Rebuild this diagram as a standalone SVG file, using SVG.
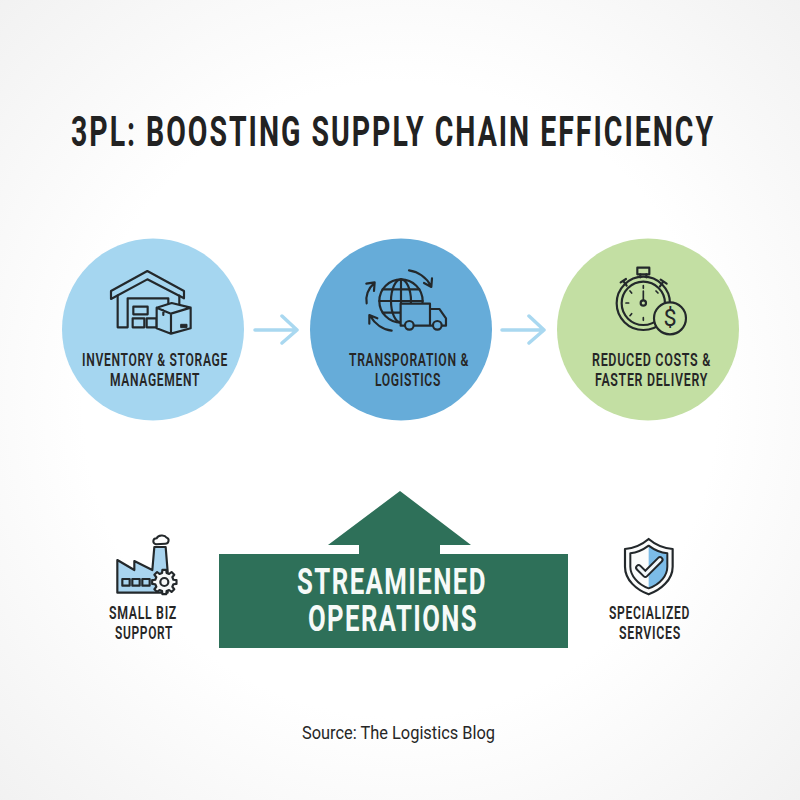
<svg xmlns="http://www.w3.org/2000/svg" width="800" height="800" viewBox="0 0 800 800">
<style>
text{font-family:Roboto,"Liberation Sans",sans-serif;fill:#262626;text-anchor:start}
.lab{font-size:18px;font-weight:600;letter-spacing:1px}
.ic{fill:none;stroke:#23282b;stroke-width:6.5;stroke-linejoin:round;stroke-linecap:round}
.conn{fill:none;stroke:#a9d8f0;stroke-width:3.5;stroke-linecap:round;stroke-linejoin:round}
.big{font-size:36px;font-weight:700;fill:#f6faf8;letter-spacing:2px}
</style>
<defs>
<radialGradient id="bg" cx="50%" cy="50%" r="72%">
<stop offset="0.55" stop-color="#ffffff"/><stop offset="1" stop-color="#f1f1f1"/>
</radialGradient>
</defs>
<rect width="800" height="800" fill="url(#bg)"/>
<text id="title" x="71" y="146" font-size="43" font-weight="700" letter-spacing="3" textLength="644" lengthAdjust="spacingAndGlyphs" style="fill:#222">3PL: BOOSTING SUPPLY CHAIN EFFICIENCY</text>

<g id="connectors">
<path class="conn" d="M255 330H297M282 316L297 330L282 343"/>
<path class="conn" d="M502 330H544M529 316L544 330L529 343"/>
</g>

<g id="node-inventory">
<circle cx="153" cy="329.5" r="91" fill="#a5d6f0"/>
<g transform="translate(60 235) scale(.3333)" class="ic">
<path d="M153 192L262 133L372 190V168L262 108L153 168Z"/>
<path d="M173 182V277H203V190H325V208M358 182V207"/>
<rect x="220" y="215" width="43" height="23"/>
<rect x="218" y="250" width="35" height="27"/>
<rect x="260" y="250" width="30" height="27"/>
<path d="M290 218L335 204L392 218V280L333 296L290 280ZM290 218L333 236L392 218M333 236V296M310 226V240" fill="#a5d6f0"/>
<rect x="363" y="268" width="18" height="10" fill="#23282b" stroke-width="3"/>
</g>
<text class="lab" x="82" y="366" textLength="146" lengthAdjust="spacingAndGlyphs">INVENTORY &amp; STORAGE</text>
<text class="lab" x="110" y="386" textLength="90" lengthAdjust="spacingAndGlyphs">MANAGEMENT</text>
</g>

<g id="node-transport">
<circle cx="401" cy="329.5" r="91" fill="#66acd9"/>
<g transform="translate(300 235) scale(.3333)" class="ic">
<circle cx="303" cy="198" r="65"/>
<ellipse cx="303" cy="198" rx="30" ry="65"/>
<path d="M303 133V263M238 198H368M248 163H358M248 233H358"/>
<path d="M302 206H390V272H302Z" fill="#66acd9" stroke="none"/>
<path d="M302 272V206H390V272ZM390 222H418L438 250V272H390Z" fill="#66acd9"/>
<circle cx="328" cy="271" r="13" fill="#66acd9"/>
<circle cx="412" cy="271" r="13" fill="#66acd9"/>
<path d="M327 106C355 110 380 128 393 153M396 130L394 156L372 144"/>
<path d="M200 205C196 185 204 160 222 145M199 146L224 142L222 168"/>
<path d="M275 287C250 285 225 268 210 242M208 266L208 240L232 250"/>
</g>
<text class="lab" x="349" y="366" textLength="120" lengthAdjust="spacingAndGlyphs">TRANSPORATION &amp;</text>
<text class="lab" x="375" y="386" textLength="66" lengthAdjust="spacingAndGlyphs">LOGISTICS</text>
</g>

<g id="node-costs">
<circle cx="648" cy="329.5" r="91" fill="#c3dfa3"/>
<g transform="translate(550 255) scale(.3333)" class="ic">
<circle cx="280" cy="145" r="80"/>
<circle cx="280" cy="145" r="65"/>
<rect x="262" y="38" width="36" height="20"/>
<path d="M271 58V67M289 58V67M212 82L228 72M220 78L230 92M332 74L350 86M340 80L330 94"/>
<path d="M280 92V100M280 188V196M228 144H236M318 108L324 114M240 108L245 114M240 182L245 176M280 108V135" stroke-width="5"/>
<circle cx="280" cy="144" r="8"/>
<circle cx="360" cy="190" r="48" fill="#c3dfa3"/>
<text x="360" y="214" font-size="70" style="text-anchor:middle;fill:#23282b;stroke:none">$</text>
</g>
<text class="lab" x="592" y="366" textLength="119" lengthAdjust="spacingAndGlyphs">REDUCED COSTS &amp;</text>
<text class="lab" x="595" y="386" textLength="113" lengthAdjust="spacingAndGlyphs">FASTER DELIVERY</text>
</g>

<g id="node-small-biz">
<g transform="translate(90 525) scale(.3333)" class="ic">
<path d="M82 203V105L133 135V108L187 135L193 66H227L233 140V203Z" fill="#a9d4ef"/>
<rect x="97" y="162" width="22" height="20"/>
<rect x="127" y="162" width="22" height="20"/>
<rect x="157" y="162" width="22" height="20"/>
<path d="M198 58C186 54 188 40 200 40C204 30 224 28 230 38C240 42 236 56 226 56Z" stroke-width="6"/>
<path transform="translate(223 171)" fill="#f6f8f8" d="M27.2 -6.8L36.5 -5.8V5.8L27.2 6.8L24 14.4L29.9 21.7L21.7 29.9L14.4 24L6.8 27.2L5.8 36.5H-5.8L-6.8 27.2L-14.4 24L-21.7 29.9L-29.9 21.7L-24 14.4L-27.2 6.8L-36.5 5.8V-5.8L-27.2 -6.8L-24 -14.4L-29.9 -21.7L-21.7 -29.9L-14.4 -24L-6.8 -27.2L-5.8 -36.5H5.8L6.8 -27.2L14.4 -24L21.7 -29.9L29.9 -21.7L24 -14.4Z"/>
<circle cx="223" cy="171" r="12"/>
</g>
<text class="lab" x="109" y="619" textLength="68" lengthAdjust="spacingAndGlyphs">SMALL BIZ</text>
<text class="lab" x="115" y="639" textLength="58" lengthAdjust="spacingAndGlyphs">SUPPORT</text>
</g>

<g id="node-specialized">
<g transform="translate(590 525) scale(.3333)" class="ic">
<path d="M176 42C155 60 130 70 105 72V125C105 165 140 195 176 208C212 195 248 165 248 125V72C222 70 197 60 176 42Z" fill="#fbfcfc"/>
<path d="M176 62V190C212 178 232 150 232 125V85C212 83 192 74 176 62Z" fill="#7cbce8" stroke="none"/>
<path d="M176 62C160 74 140 83 121 85V125C121 150 142 178 176 190C212 178 232 150 232 125V85C212 83 192 74 176 62Z" stroke-width="6"/>
<path d="M146 128L166 148L210 104" stroke-width="21"/>
<path d="M146 128L166 148L210 104" stroke="#f3f8fb" stroke-width="9"/>
</g>
<text class="lab" x="609" y="619" textLength="81" lengthAdjust="spacingAndGlyphs">SPECIALIZED</text>
<text class="lab" x="619" y="639" textLength="62" lengthAdjust="spacingAndGlyphs">SERVICES</text>
</g>

<g id="node-operations">
<path d="M400 491L471 545H440V554H568V648H219V554H359V545H328Z" fill="#2e7059"/>
<text class="big" x="297" y="594" textLength="190" lengthAdjust="spacingAndGlyphs">STREAMIENED</text>
<text class="big" x="308" y="631" textLength="170" lengthAdjust="spacingAndGlyphs">OPERATIONS</text>
</g>

<text id="source" x="302" y="739" font-size="19" textLength="193" lengthAdjust="spacingAndGlyphs">Source: The Logistics Blog</text>
</svg>
